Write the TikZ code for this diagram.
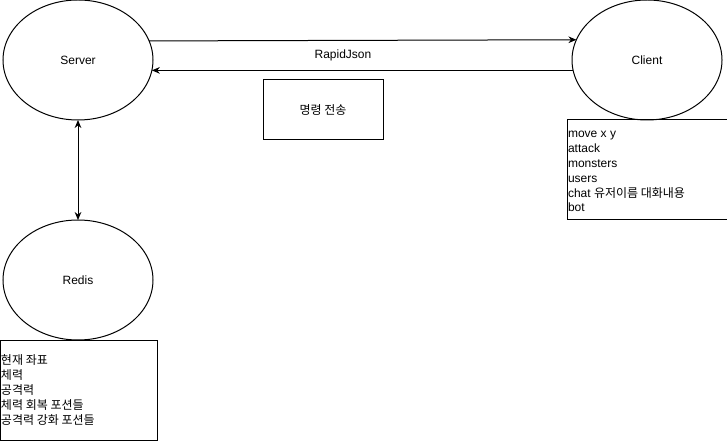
\documentclass[tikz,border=0pt]{standalone}
\usepackage{fontspec}
\setmainfont{Liberation Sans}
\newfontfamily\cjk{Noto Sans CJK KR}
\usetikzlibrary{shapes.geometric,arrows.meta}
\begin{document}
\begin{tikzpicture}[x=0.75pt,y=-0.75pt,
  every node/.style={font=\fontsize{9}{11.1}\selectfont, inner sep=0pt, outer sep=0pt},
  oval/.style={ellipse, draw, line width=0.75pt, minimum width=112.5pt, minimum height=90pt},
  boxy/.style={draw, line width=0.75pt, anchor=north west},
  conn/.style={line width=0.75pt, -{Stealth[length=6pt,width=5pt]}},
  listtext/.style={anchor=base west, align=left}]
\useasboundingbox (0,0) rectangle (727,441);
\node[oval] (server) at (78,60) {Server};
\node[oval] (client) at (647,60) {Client};
\node[oval] (redis) at (78,280) {Redis};
\node[boxy, minimum width=120*0.75pt, minimum height=60*0.75pt] (cmd) at (263,80) {};
\node at (cmd.center) (cmdtext) {\cjk 명령 전송};
\node[boxy, minimum width=160*0.75pt, minimum height=100*0.75pt] (cbox) at (567,120) {};
\node[boxy, minimum width=157*0.75pt, minimum height=100*0.75pt] (rbox) at (0,340) {};
\node[listtext] (clist) at (568,212) {move x y\\attack\\monsters\\users\\chat {\cjk 유저이름 대화내용}\\bot};
\node[listtext, font=\fontsize{9}{11.1}\cjk] (rlist) at (1,424) {현재 좌표\\체력\\공격력\\체력 회복 포션들\\공격력 강화 포션들};
\draw[conn] (server.15.8) -- (client.164.2);
\draw[conn] (client.188.5) -- (server.-8.5);
\node (rj) at (343,55) {RapidJson};
\draw[conn, {Stealth[length=6pt,width=5pt]}-{Stealth[length=6pt,width=5pt]}] (server.south) -- (redis.north);
\end{tikzpicture}
\end{document}
